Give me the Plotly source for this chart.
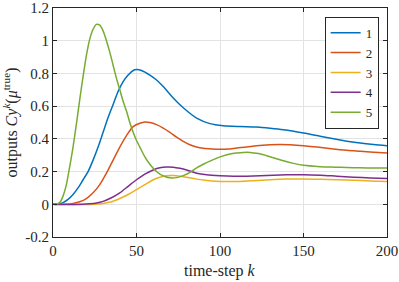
import plotly.graph_objects as go

# ---- data ----
names = ["1", "2", "3", "4", "5"]
colors = ["#0072BD", "#D95319", "#EDB120", "#7E2F8E", "#77AC30"]

k1 = [0, 3, 6, 9, 12, 15, 18, 21, 24, 27, 30, 33, 36, 39, 42, 45, 48, 50, 53, 58, 62, 66, 72, 78, 86, 94, 102, 112, 122, 130, 138, 150, 160, 168, 176, 184, 192, 200]
y1 = [0, 0, 0.01, 0.03, 0.06, 0.10, 0.15, 0.20, 0.27, 0.35, 0.44, 0.53, 0.61, 0.69, 0.75, 0.79, 0.818, 0.824, 0.818, 0.79, 0.76, 0.72, 0.65, 0.59, 0.527, 0.493, 0.48, 0.475, 0.472, 0.465, 0.456, 0.436, 0.416, 0.40, 0.386, 0.374, 0.365, 0.358]

k2 = [0, 8, 12, 16, 20, 24, 28, 32, 36, 40, 44, 48, 52, 55, 58, 62, 66, 70, 74, 78, 82, 86, 90, 95, 100, 105, 110, 116, 122, 130, 136, 142, 150, 158, 168, 176, 184, 192, 200]
y2 = [0, 0, 0.005, 0.015, 0.035, 0.07, 0.12, 0.19, 0.27, 0.35, 0.42, 0.475, 0.495, 0.503, 0.50, 0.487, 0.466, 0.44, 0.41, 0.385, 0.364, 0.35, 0.342, 0.338, 0.336, 0.338, 0.344, 0.35, 0.358, 0.364, 0.366, 0.364, 0.358, 0.35, 0.338, 0.33, 0.324, 0.318, 0.314]

k3 = [0, 25, 30, 35, 40, 45, 50, 55, 60, 64, 68, 72, 76, 80, 85, 90, 95, 100, 106, 112, 120, 130, 140, 150, 160, 170, 180, 190, 200]
y3 = [0, 0, 0.005, 0.015, 0.035, 0.06, 0.09, 0.12, 0.15, 0.165, 0.175, 0.176, 0.172, 0.165, 0.156, 0.148, 0.143, 0.14, 0.139, 0.14, 0.144, 0.15, 0.154, 0.155, 0.153, 0.15, 0.147, 0.143, 0.14]

k4 = [0, 18, 22, 26, 30, 35, 40, 45, 50, 55, 60, 64, 68, 72, 76, 80, 86, 92, 100, 108, 116, 124, 132, 140, 150, 160, 170, 180, 190, 200]
y4 = [0, 0, 0.003, 0.008, 0.018, 0.04, 0.07, 0.11, 0.15, 0.185, 0.21, 0.223, 0.228, 0.227, 0.22, 0.21, 0.19, 0.18, 0.174, 0.171, 0.172, 0.175, 0.178, 0.18, 0.181, 0.178, 0.172, 0.166, 0.161, 0.157]

k5 = [0, 2, 4, 6, 8, 10, 12, 14, 16, 18, 20, 22, 24, 26, 28, 30, 32, 34, 36, 38, 40, 42, 44, 46, 48, 50, 52, 55, 58, 61, 64, 67, 70, 74, 78, 82, 86, 90, 96, 101, 106, 110, 114, 118, 123, 128, 133, 138, 144, 150, 160, 168, 176, 184, 192, 200]
y5 = [0, 0, 0.01, 0.05, 0.12, 0.23, 0.35, 0.49, 0.64, 0.78, 0.91, 1.01, 1.07, 1.10, 1.095, 1.06, 1.0, 0.93, 0.85, 0.77, 0.70, 0.63, 0.57, 0.50, 0.44, 0.39, 0.35, 0.29, 0.245, 0.21, 0.185, 0.17, 0.162, 0.163, 0.175, 0.195, 0.222, 0.245, 0.273, 0.293, 0.307, 0.313, 0.317, 0.317, 0.31, 0.297, 0.282, 0.266, 0.25, 0.238, 0.23, 0.227, 0.225, 0.223, 0.222, 0.222]

xs = [k1, k2, k3, k4, k5]
ys = [y1, y2, y3, y4, y5]

x_ticks = [0, 50, 100, 150, 200]
y_ticks = [-0.2, 0, 0.2, 0.4, 0.6, 0.8, 1.0, 1.2]
y_ticklabels = ["-0.2", "0", "0.2", "0.4", "0.6", "0.8", "1", "1.2"]

x_title = "time-step <i>k</i>"
y_title = "outputs <i>Cy</i><sup><i>k</i></sup>(<i>μ</i><sup>true</sup>)"

FONT = "Liberation Serif"
INK = "#262626"

fig = go.Figure()
for n, c, x, y in zip(names, colors, xs, ys):
    fig.add_trace(go.Scatter(x=x, y=y, name=n, mode="lines",
                             line=dict(color=c, width=1.5, shape="spline", smoothing=0.8)))

axis_common = dict(
    showline=True, linecolor=INK, linewidth=1, mirror="ticks",
    ticks="inside", ticklen=4, tickcolor=INK,
    showgrid=True, gridcolor="#e3e3e3", gridwidth=1, zeroline=False,
    tickfont=dict(family=FONT, size=15, color=INK),
    automargin=False,
)

fig.update_xaxes(range=[0, 200], tickvals=x_ticks, **axis_common)
fig.update_yaxes(range=[-0.2, 1.2], tickvals=y_ticks, ticktext=y_ticklabels, **axis_common)

fig.add_annotation(text=x_title, xref="paper", yref="paper", x=0.5, y=0,
                   xanchor="center", yanchor="middle", yshift=-34, showarrow=False,
                   font=dict(family=FONT, size=16, color=INK))
fig.add_annotation(text=y_title, xref="paper", yref="paper", x=0, y=0.5,
                   xanchor="center", yanchor="middle", xshift=-42, textangle=-90, showarrow=False,
                   font=dict(family=FONT, size=16, color=INK))

fig.update_layout(
    width=399, height=282,
    margin=dict(l=53, r=12, t=8, b=45, autoexpand=False),
    plot_bgcolor="white", paper_bgcolor="white",
    font=dict(family=FONT, size=14, color=INK),
    legend=dict(x=0.975, y=0.962, xanchor="right", yanchor="top",
                bgcolor="white", bordercolor=INK, borderwidth=1,
                font=dict(family=FONT, size=13, color=INK),
                tracegroupgap=0, itemwidth=30),
    showlegend=True,
)

fig.write_html("out.html", config={"displayModeBar": False},
               post_script="document.body.style.margin='0';document.body.style.padding='0';")
